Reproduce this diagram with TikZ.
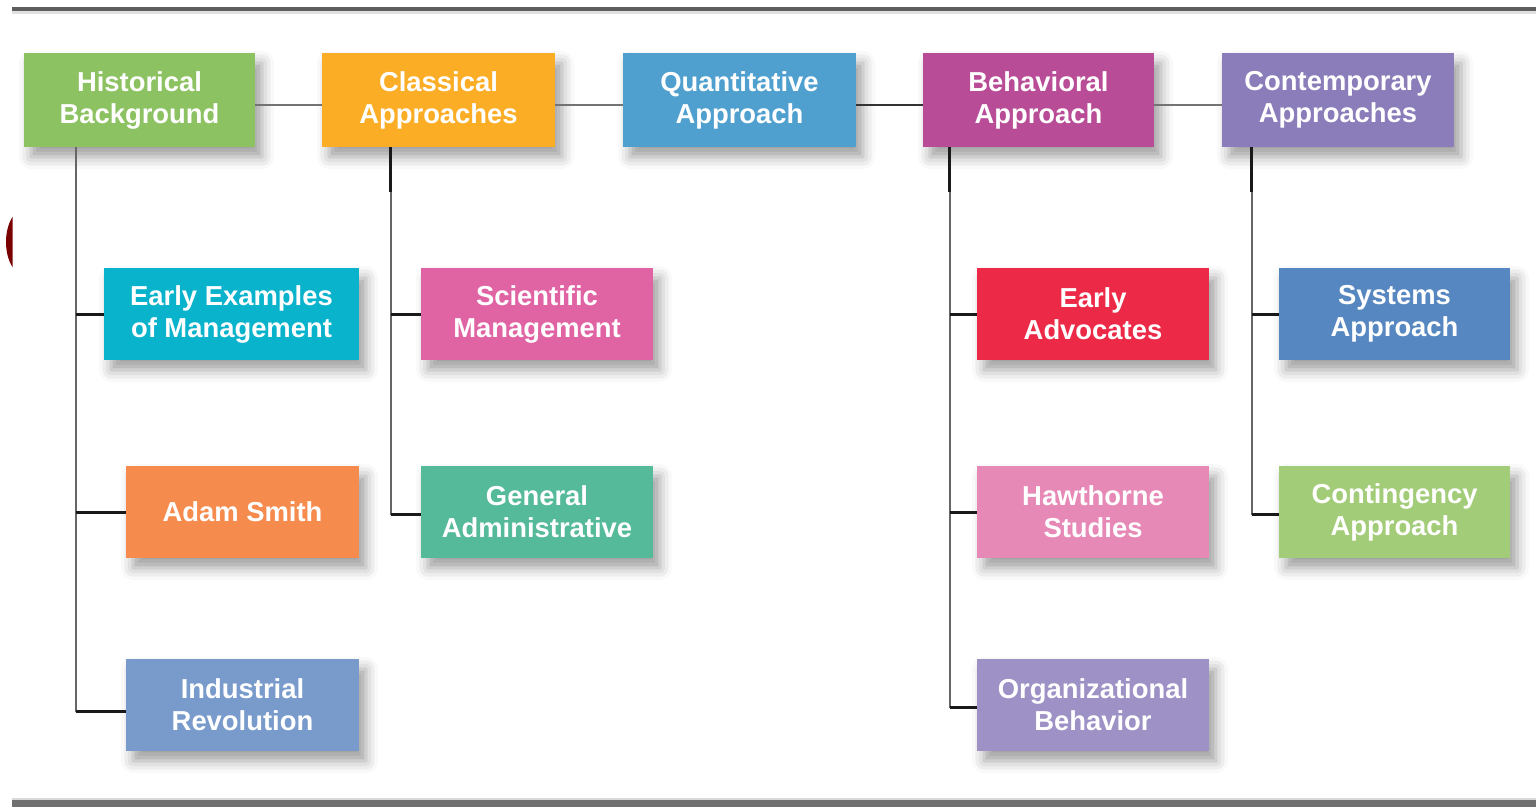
\documentclass[tikz,border=0pt]{standalone}
\usepackage{fontspec}
\setmainfont{Liberation Sans}
\usetikzlibrary{shadows.blur}
\definecolor{cHB}{HTML}{8DC263}
\definecolor{cCA}{HTML}{FCAD26}
\definecolor{cQA}{HTML}{50A0CF}
\definecolor{cBA}{HTML}{B84C96}
\definecolor{cCP}{HTML}{8B7DBA}
\definecolor{cEE}{HTML}{0AB3CC}
\definecolor{cSM}{HTML}{E063A3}
\definecolor{cEA}{HTML}{EC2A48}
\definecolor{cSA}{HTML}{5687C0}
\definecolor{cAS}{HTML}{F68B4E}
\definecolor{cGA}{HTML}{54BA99}
\definecolor{cHS}{HTML}{E789B6}
\definecolor{cCG}{HTML}{A3CC79}
\definecolor{cIR}{HTML}{799BCB}
\definecolor{cOB}{HTML}{9D91C5}
\definecolor{rule}{HTML}{5E5E5E}
\definecolor{dred}{HTML}{7A0000}
\tikzset{
  box/.style={rectangle, inner sep=0pt, text=white, align=center,
    font=\fontsize{27.4}{32}\selectfont\bfseries,
    minimum width=232pt, minimum height=92pt,
    blur shadow={shadow xshift=7pt, shadow yshift=-10pt, shadow blur radius=12pt, shadow opacity=38}},
  toplink/.style={draw=black!55, line width=2pt},
  trunk/.style={draw=black!60, line width=2pt},
  branch/.style={draw=black!90, line width=3pt},
}
\begin{document}
\begin{tikzpicture}[x=1pt,y=-1pt]
\useasboundingbox (0,0) rectangle (1536,807);
% rules
\fill[black!12] (12,11) rectangle (1536,14);
\fill[rule] (12,7) rectangle (1536,11);
\fill[black!15] (12,798) rectangle (1536,800);
\fill[black!56] (12,800) rectangle (1536,807);
% partial dark red shape at left edge
\begin{scope}
  \clip (5,200) rectangle (12.5,290);
  \fill[dred] (26,242) ellipse [x radius=20, y radius=34];
\end{scope}
% top row
\node[box, fill=cHB, minimum width=231pt, minimum height=94pt] (hb) at (139.5,100) {Historical\\Background};
\node[box, fill=cCA, minimum width=233pt, minimum height=94pt] (ca) at (438.5,100) {Classical\\Approaches};
\node[box, fill=cQA, minimum width=233pt, minimum height=94pt] (qa) at (739.5,100) {Quantitative\\Approach};
\node[box, fill=cBA, minimum width=231pt, minimum height=94pt] (ba) at (1038.5,100) {Behavioral\\Approach};
\node[box, fill=cCP, minimum width=232pt, minimum height=94pt] (cp) at (1338,100) {Contemporary\\Approaches};
% children
\node[box, fill=cEE, minimum width=255pt] (ee) at (231.5,314) {Early Examples\\of Management};
\node[box, fill=cAS, minimum width=233pt] (as) at (242.5,512) {Adam Smith};
\node[box, fill=cIR, minimum width=233pt] (ir) at (242.5,705) {Industrial\\Revolution};
\node[box, fill=cSM] (sm) at (537,314) {Scientific\\Management};
\node[box, fill=cGA] (ga) at (537,512) {General\\Administrative};
\node[box, fill=cEA] (ea) at (1093,314) {Early\\Advocates};
\node[box, fill=cHS] (hs) at (1093,512) {Hawthorne\\Studies};
\node[box, fill=cOB] (ob) at (1093,705) {Organizational\\Behavior};
\node[box, fill=cSA, minimum width=231pt] (sa) at (1394.5,314) {Systems\\Approach};
\node[box, fill=cCG, minimum width=231pt] (cg) at (1394.5,512) {Contingency\\Approach};
% top links
\draw[toplink] ([yshift=-5pt]hb.east) -- ([yshift=-5pt]ca.west);
\draw[toplink] ([yshift=-5pt]ca.east) -- ([yshift=-5pt]qa.west);
\draw[toplink, draw=black!80, line width=2.5pt] ([yshift=-5pt]qa.east) -- ([yshift=-5pt]ba.west);
\draw[toplink] ([yshift=-5pt]ba.east) -- ([yshift=-5pt]cp.west);
% trunks
\coordinate (thb) at ([xshift=52pt]hb.south west);
\coordinate (tca) at ([xshift=69pt]ca.south west);
\coordinate (tba) at ([xshift=27pt]ba.south west);
\coordinate (tcp) at ([xshift=30pt]cp.south west);
\draw[trunk] (thb) |- ([yshift=-6pt]ir.west);
\draw[trunk] (tca) |- ([yshift=-2pt]ga.west);
\draw[trunk] (tba) |- ([yshift=-2pt]ob.west);
\draw[trunk] (tcp) |- ([yshift=-2pt]cg.west);
% dark stubs under parents
\draw[branch] (tca) -- ++(0,45);
\draw[branch] (tba) -- ++(0,45);
\draw[branch] (tcp) -- ++(0,45);
% branches
\draw[branch] (ee.west -| thb) -- (ee.west);
\draw[branch] (as.west -| thb) -- (as.west);
\draw[branch] ([yshift=-6pt]ir.west -| thb) -- ([yshift=-6pt]ir.west);
\draw[branch] (sm.west -| tca) -- (sm.west);
\draw[branch] ([yshift=-2pt]ga.west -| tca) -- ([yshift=-2pt]ga.west);
\draw[branch] (ea.west -| tba) -- (ea.west);
\draw[branch] (hs.west -| tba) -- (hs.west);
\draw[branch] ([yshift=-2pt]ob.west -| tba) -- ([yshift=-2pt]ob.west);
\draw[branch] (sa.west -| tcp) -- (sa.west);
\draw[branch] ([yshift=-2pt]cg.west -| tcp) -- ([yshift=-2pt]cg.west);
\end{tikzpicture}
\end{document}
